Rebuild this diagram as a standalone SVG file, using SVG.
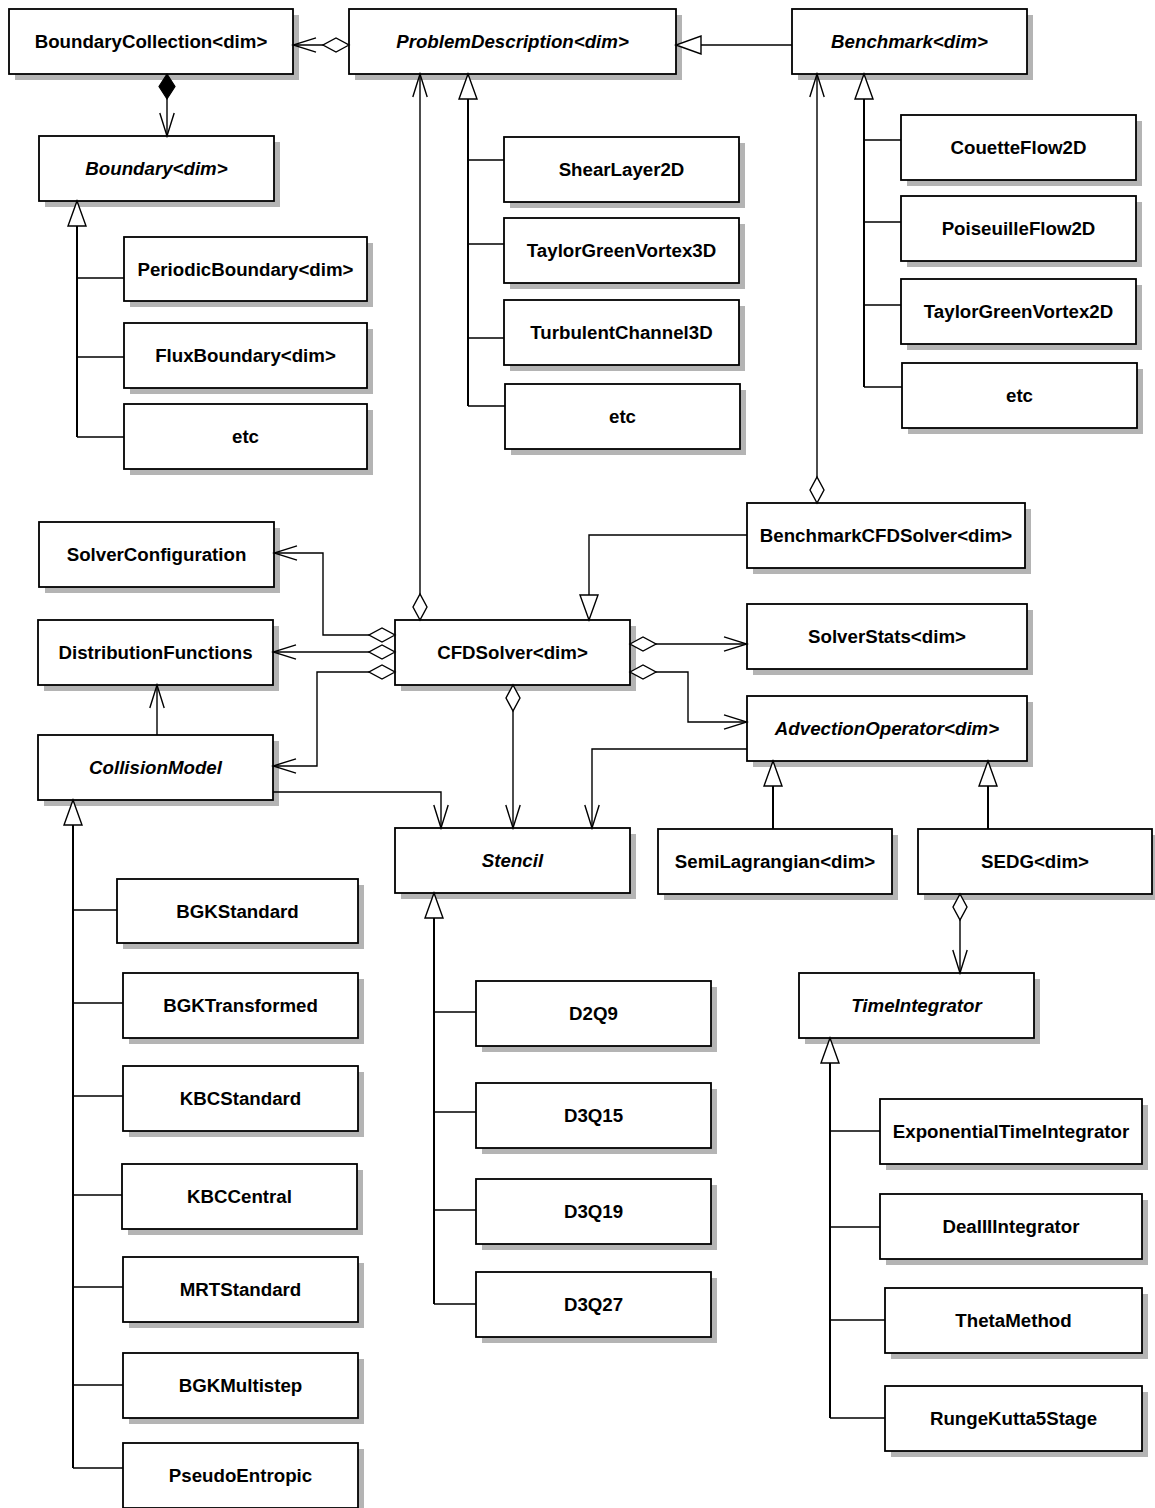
<svg xmlns="http://www.w3.org/2000/svg" width="1155" height="1508" viewBox="0 0 1155 1508">
<style>
.sh{fill:#b4b4b4;stroke:none}
.bx{fill:#fff;stroke:#000;stroke-width:1.8}
text{font-family:"Liberation Sans",Arial,Helvetica,sans-serif;font-size:18.7px;font-weight:bold;text-anchor:middle;fill:#000}
text.ab{font-style:italic}
.c{fill:none;stroke:#000;stroke-width:1.4}
.t{fill:none;stroke:#000;stroke-width:2}
</style>
<defs>
<marker id="open" viewBox="-26 -10 28 20" refX="0" refY="0" markerWidth="28" markerHeight="20" markerUnits="userSpaceOnUse" orient="auto">
<path d="M-23,-7.2 L0,0 L-23,7.2" fill="none" stroke="#000" stroke-width="1.4"/>
</marker>
<marker id="tri" viewBox="-27 -11 29 22" refX="0" refY="0" markerWidth="29" markerHeight="22" markerUnits="userSpaceOnUse" orient="auto">
<path d="M0,0 L-25,-9 L-25,9 Z" fill="#fff" stroke="#000" stroke-width="1.4"/>
</marker>
<marker id="dia" viewBox="-2 -10 30 20" refX="0" refY="0" markerWidth="30" markerHeight="20" markerUnits="userSpaceOnUse" orient="auto">
<path d="M0,0 L13,-7 L26,0 L13,7 Z" fill="#fff" stroke="#000" stroke-width="1.4"/>
</marker>
<marker id="fdia" viewBox="-2 -10 30 20" refX="0" refY="0" markerWidth="30" markerHeight="20" markerUnits="userSpaceOnUse" orient="auto">
<path d="M0,0 L12.5,-8 L25,0 L12.5,8 Z" fill="#000" stroke="#000" stroke-width="1.2"/>
</marker>
</defs>

<g id="nodes">
<g id="BoundaryCollection"><rect class="sh" x="15" y="15" width="284" height="65"/><rect class="bx" x="9" y="9" width="284" height="65"/><text x="151" y="48">BoundaryCollection&lt;dim&gt;</text></g>
<g id="ProblemDescription"><rect class="sh" x="355" y="15" width="327" height="65"/><rect class="bx" x="349" y="9" width="327" height="65"/><text class="ab" x="512.5" y="48">ProblemDescription&lt;dim&gt;</text></g>
<g id="Benchmark"><rect class="sh" x="798" y="15" width="235" height="65"/><rect class="bx" x="792" y="9" width="235" height="65"/><text class="ab" x="909.5" y="48">Benchmark&lt;dim&gt;</text></g>
<g id="Boundary"><rect class="sh" x="45" y="142" width="235" height="65"/><rect class="bx" x="39" y="136" width="235" height="65"/><text class="ab" x="156.5" y="175">Boundary&lt;dim&gt;</text></g>
<g id="PeriodicBoundary"><rect class="sh" x="130" y="243" width="243" height="64"/><rect class="bx" x="124" y="237" width="243" height="64"/><text x="245.5" y="275.5">PeriodicBoundary&lt;dim&gt;</text></g>
<g id="FluxBoundary"><rect class="sh" x="130" y="329" width="243" height="65"/><rect class="bx" x="124" y="323" width="243" height="65"/><text x="245.5" y="362">FluxBoundary&lt;dim&gt;</text></g>
<g id="BoundaryEtc"><rect class="sh" x="130" y="410" width="243" height="65"/><rect class="bx" x="124" y="404" width="243" height="65"/><text x="245.5" y="443">etc</text></g>
<g id="ShearLayer2D"><rect class="sh" x="510" y="143" width="235" height="65"/><rect class="bx" x="504" y="137" width="235" height="65"/><text x="621.5" y="176">ShearLayer2D</text></g>
<g id="TaylorGreenVortex3D"><rect class="sh" x="510" y="224" width="235" height="65"/><rect class="bx" x="504" y="218" width="235" height="65"/><text x="621.5" y="257">TaylorGreenVortex3D</text></g>
<g id="TurbulentChannel3D"><rect class="sh" x="510" y="306" width="235" height="65"/><rect class="bx" x="504" y="300" width="235" height="65"/><text x="621.5" y="339">TurbulentChannel3D</text></g>
<g id="ProblemEtc"><rect class="sh" x="511" y="390" width="235" height="65"/><rect class="bx" x="505" y="384" width="235" height="65"/><text x="622.5" y="423">etc</text></g>
<g id="CouetteFlow2D"><rect class="sh" x="907" y="121" width="235" height="65"/><rect class="bx" x="901" y="115" width="235" height="65"/><text x="1018.5" y="154">CouetteFlow2D</text></g>
<g id="PoiseuilleFlow2D"><rect class="sh" x="907" y="202" width="235" height="65"/><rect class="bx" x="901" y="196" width="235" height="65"/><text x="1018.5" y="235">PoiseuilleFlow2D</text></g>
<g id="TaylorGreenVortex2D"><rect class="sh" x="907" y="285" width="235" height="65"/><rect class="bx" x="901" y="279" width="235" height="65"/><text x="1018.5" y="318">TaylorGreenVortex2D</text></g>
<g id="BenchmarkEtc"><rect class="sh" x="908" y="369" width="235" height="65"/><rect class="bx" x="902" y="363" width="235" height="65"/><text x="1019.5" y="402">etc</text></g>
<g id="BenchmarkCFDSolver"><rect class="sh" x="753" y="509" width="278" height="65"/><rect class="bx" x="747" y="503" width="278" height="65"/><text x="886" y="542">BenchmarkCFDSolver&lt;dim&gt;</text></g>
<g id="SolverConfiguration"><rect class="sh" x="45" y="528" width="235" height="65"/><rect class="bx" x="39" y="522" width="235" height="65"/><text x="156.5" y="561">SolverConfiguration</text></g>
<g id="CFDSolver"><rect class="sh" x="401" y="626" width="235" height="65"/><rect class="bx" x="395" y="620" width="235" height="65"/><text x="512.5" y="659">CFDSolver&lt;dim&gt;</text></g>
<g id="SolverStats"><rect class="sh" x="753" y="610" width="280" height="65"/><rect class="bx" x="747" y="604" width="280" height="65"/><text x="887" y="643">SolverStats&lt;dim&gt;</text></g>
<g id="DistributionFunctions"><rect class="sh" x="44" y="626" width="235" height="65"/><rect class="bx" x="38" y="620" width="235" height="65"/><text x="155.5" y="659">DistributionFunctions</text></g>
<g id="AdvectionOperator"><rect class="sh" x="753" y="702" width="280" height="65"/><rect class="bx" x="747" y="696" width="280" height="65"/><text class="ab" x="887" y="735">AdvectionOperator&lt;dim&gt;</text></g>
<g id="CollisionModel"><rect class="sh" x="44" y="741" width="235" height="65"/><rect class="bx" x="38" y="735" width="235" height="65"/><text class="ab" x="155.5" y="774">CollisionModel</text></g>
<g id="Stencil"><rect class="sh" x="401" y="834" width="235" height="65"/><rect class="bx" x="395" y="828" width="235" height="65"/><text class="ab" x="512.5" y="867">Stencil</text></g>
<g id="SemiLagrangian"><rect class="sh" x="664" y="835" width="234" height="65"/><rect class="bx" x="658" y="829" width="234" height="65"/><text x="775" y="868">SemiLagrangian&lt;dim&gt;</text></g>
<g id="SEDG"><rect class="sh" x="924" y="835" width="234" height="65"/><rect class="bx" x="918" y="829" width="234" height="65"/><text x="1035" y="868">SEDG&lt;dim&gt;</text></g>
<g id="TimeIntegrator"><rect class="sh" x="805" y="979" width="235" height="65"/><rect class="bx" x="799" y="973" width="235" height="65"/><text class="ab" x="916.5" y="1012">TimeIntegrator</text></g>
<g id="BGKStandard"><rect class="sh" x="123" y="885" width="241" height="64"/><rect class="bx" x="117" y="879" width="241" height="64"/><text x="237.5" y="917.5">BGKStandard</text></g>
<g id="BGKTransformed"><rect class="sh" x="129" y="979" width="235" height="65"/><rect class="bx" x="123" y="973" width="235" height="65"/><text x="240.5" y="1012">BGKTransformed</text></g>
<g id="KBCStandard"><rect class="sh" x="129" y="1072" width="235" height="65"/><rect class="bx" x="123" y="1066" width="235" height="65"/><text x="240.5" y="1105">KBCStandard</text></g>
<g id="KBCCentral"><rect class="sh" x="128" y="1170" width="235" height="65"/><rect class="bx" x="122" y="1164" width="235" height="65"/><text x="239.5" y="1203">KBCCentral</text></g>
<g id="MRTStandard"><rect class="sh" x="129" y="1263" width="235" height="65"/><rect class="bx" x="123" y="1257" width="235" height="65"/><text x="240.5" y="1296">MRTStandard</text></g>
<g id="BGKMultistep"><rect class="sh" x="129" y="1359" width="235" height="65"/><rect class="bx" x="123" y="1353" width="235" height="65"/><text x="240.5" y="1392">BGKMultistep</text></g>
<g id="PseudoEntropic"><rect class="sh" x="129" y="1449" width="235" height="65"/><rect class="bx" x="123" y="1443" width="235" height="65"/><text x="240.5" y="1482">PseudoEntropic</text></g>
<g id="D2Q9"><rect class="sh" x="482" y="987" width="235" height="65"/><rect class="bx" x="476" y="981" width="235" height="65"/><text x="593.5" y="1020">D2Q9</text></g>
<g id="D3Q15"><rect class="sh" x="482" y="1089" width="235" height="65"/><rect class="bx" x="476" y="1083" width="235" height="65"/><text x="593.5" y="1122">D3Q15</text></g>
<g id="D3Q19"><rect class="sh" x="482" y="1185" width="235" height="65"/><rect class="bx" x="476" y="1179" width="235" height="65"/><text x="593.5" y="1218">D3Q19</text></g>
<g id="D3Q27"><rect class="sh" x="482" y="1278" width="235" height="65"/><rect class="bx" x="476" y="1272" width="235" height="65"/><text x="593.5" y="1311">D3Q27</text></g>
<g id="ExponentialTimeIntegrator"><rect class="sh" x="886" y="1105" width="262" height="65"/><rect class="bx" x="880" y="1099" width="262" height="65"/><text x="1011" y="1138">ExponentialTimeIntegrator</text></g>
<g id="DealIIIntegrator"><rect class="sh" x="886" y="1200" width="262" height="65"/><rect class="bx" x="880" y="1194" width="262" height="65"/><text x="1011" y="1233">DealIIIntegrator</text></g>
<g id="ThetaMethod"><rect class="sh" x="891" y="1294" width="257" height="65"/><rect class="bx" x="885" y="1288" width="257" height="65"/><text x="1013.5" y="1327">ThetaMethod</text></g>
<g id="RungeKutta5Stage"><rect class="sh" x="891" y="1392" width="257" height="65"/><rect class="bx" x="885" y="1386" width="257" height="65"/><text x="1013.5" y="1425">RungeKutta5Stage</text></g>
</g>

<g id="connectors">
<path class="c" d="M349,45 L293,45" marker-start="url(#dia)" marker-end="url(#open)"/>
<path class="c" d="M167,74 L167,136" marker-start="url(#fdia)" marker-end="url(#open)"/>
<path class="c" d="M420,620 L420,74" marker-start="url(#dia)" marker-end="url(#open)"/>
<path class="c" d="M817,503 L817,74" marker-start="url(#dia)" marker-end="url(#open)"/>
<path class="c" d="M395,635 L323,635 L323,553 L274,553" marker-start="url(#dia)" marker-end="url(#open)"/>
<path class="c" d="M395,652 L273,652" marker-start="url(#dia)" marker-end="url(#open)"/>
<path class="c" d="M395,672 L317,672 L317,766 L273,766" marker-start="url(#dia)" marker-end="url(#open)"/>
<path class="c" d="M157,735 L157,685" marker-end="url(#open)"/>
<path class="c" d="M273,792 L441,792 L441,828" marker-end="url(#open)"/>
<path class="c" d="M513,685 L513,828" marker-start="url(#dia)" marker-end="url(#open)"/>
<path class="c" d="M630,644 L747,644" marker-start="url(#dia)" marker-end="url(#open)"/>
<path class="c" d="M630,672 L688,672 L688,722 L747,722" marker-start="url(#dia)" marker-end="url(#open)"/>
<path class="c" d="M747,749 L592,749 L592,828" marker-end="url(#open)"/>
<path class="c" d="M960,894 L960,973" marker-start="url(#dia)" marker-end="url(#open)"/>
<path class="c" d="M792,45 L676,45" marker-end="url(#tri)"/>
<path class="c" d="M747,535 L589,535 L589,620" marker-end="url(#tri)"/>
<path class="t" d="M773,829 L773,761" marker-end="url(#tri)"/>
<path class="t" d="M988,829 L988,761" marker-end="url(#tri)"/>
<path class="t" d="M77,437 L77,201" marker-end="url(#tri)"/>
<path class="c" d="M77,278 H124 M77,357 H124 M77,437 H124"/>
<path class="t" d="M468,406 L468,74" marker-end="url(#tri)"/>
<path class="c" d="M468,160 H504 M468,244 H504 M468,338 H504 M468,406 H505"/>
<path class="t" d="M864,387 L864,74" marker-end="url(#tri)"/>
<path class="c" d="M864,140 H901 M864,222 H901 M864,305 H901 M864,387 H902"/>
<path class="t" d="M73,1468 L73,800" marker-end="url(#tri)"/>
<path class="c" d="M73,910 H117 M73,1003 H123 M73,1096 H123 M73,1195 H122 M73,1287 H123 M73,1385 H123 M73,1468 H123"/>
<path class="t" d="M434,1304 L434,893" marker-end="url(#tri)"/>
<path class="c" d="M434,1012 H476 M434,1112 H476 M434,1210 H476 M434,1304 H476"/>
<path class="t" d="M830,1418 L830,1038" marker-end="url(#tri)"/>
<path class="c" d="M830,1131 H880 M830,1227 H880 M830,1320 H885 M830,1418 H885"/>
</g>
</svg>
